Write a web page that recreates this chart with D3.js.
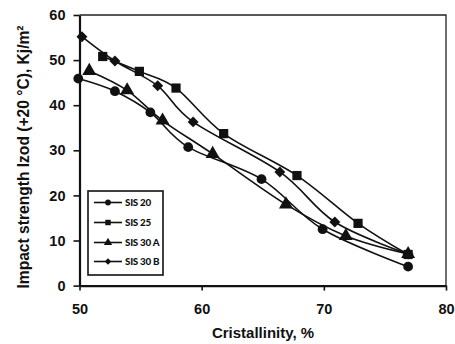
<!DOCTYPE html>
<html>
<head>
<meta charset="utf-8">
<script src="https://cdn.jsdelivr.net/npm/d3@7/dist/d3.min.js"></script>
<style>
  html, body { margin: 0; padding: 0; background: #fff; }
  svg { display: block; }
  .tick text { font-family: "Liberation Sans", Arial, sans-serif; font-weight: bold; font-size: 14.5px; fill: #111; }
</style>
</head>
<body>
<svg id="chart" width="455" height="344"></svg>
<script>
// Impact strength vs. crystallinity for four SIS grades
const seriesNames = ["SIS 20", "SIS 25", "SIS 30 A", "SIS 30 B"];
const sis20X  = [49.9, 52.9, 55.8, 58.9, 64.9, 69.9, 76.9];
const sis20Y  = [45.9, 43.1, 38.4, 30.7, 23.6, 12.5, 4.2];
const sis25X  = [51.9, 54.9, 57.9, 61.8, 67.8, 72.8, 76.9];
const sis25Y  = [50.8, 47.5, 43.8, 33.7, 24.4, 13.8, 6.9];
const sis30aX = [50.8, 53.9, 56.8, 60.9, 66.9, 71.8, 76.9];
const sis30aY = [47.6, 43.3, 36.6, 29.2, 18.0, 11.0, 7.0];
const sis30bX = [50.2, 52.9, 56.4, 59.3, 66.4, 70.9, 76.9];
const sis30bY = [55.2, 49.8, 44.3, 36.3, 25.2, 14.1, 7.0];
const xTicks = [50, 60, 70, 80];
const yTicks = [0, 10, 20, 30, 40, 50, 60];

// a square turned 45 degrees, as wide as it is tall
const symbolRhomb = {
  draw(ctx, size) {
    const r = Math.sqrt(size / 2);
    ctx.moveTo(0, -r); ctx.lineTo(r, 0); ctx.lineTo(0, r); ctx.lineTo(-r, 0); ctx.closePath();
  }
};

const series = [
  { name: seriesNames[0], xs: sis20X,  ys: sis20Y,  symbol: d3.symbolCircle,   size: 75 },
  { name: seriesNames[1], xs: sis25X,  ys: sis25Y,  symbol: d3.symbolSquare,   size: 85 },
  { name: seriesNames[2], xs: sis30aX, ys: sis30aY, symbol: d3.symbolTriangle, size: 85 },
  { name: seriesNames[3], xs: sis30bX, ys: sis30bY, symbol: symbolRhomb,       size: 60 }
];

const svg = d3.select("#chart");
const plotL = 79.5, plotR = 446, plotT = 15, plotB = 285.6;

const x = d3.scaleLinear().domain([50, 80]).range([plotL, plotR]);
const y = d3.scaleLinear().domain([0, 60]).range([plotB, plotT]);

// plot frame (top and right edges)
svg.append("path")
  .attr("d", `M${plotL},${plotT}H${plotR}V${plotB}`)
  .attr("fill", "none").attr("stroke", "#222").attr("stroke-width", 1.3);

const xAxis = svg.append("g")
  .attr("transform", `translate(0,${plotB})`)
  .call(d3.axisBottom(x).tickValues(xTicks).tickSize(5).tickPadding(13).tickSizeOuter(0));
const yAxis = svg.append("g")
  .attr("transform", `translate(${plotL},0)`)
  .call(d3.axisLeft(y).tickValues(yTicks).tickSize(6).tickPadding(8).tickSizeOuter(0));
[xAxis, yAxis].forEach(g => {
  g.select(".domain").attr("stroke", "#111").attr("stroke-width", 2.2);
  g.selectAll(".tick line").attr("stroke", "#111").attr("stroke-width", 1.6);
});

// axis titles
svg.append("text")
  .attr("x", 263).attr("y", 338)
  .attr("text-anchor", "middle")
  .attr("font-family", "Liberation Sans, Arial, sans-serif")
  .attr("font-weight", "bold").attr("font-size", 15).attr("fill", "#111")
  .text("Cristallinity, %");
svg.append("text")
  .attr("transform", "translate(29,157) rotate(-90)")
  .attr("text-anchor", "middle")
  .attr("font-family", "Liberation Sans, Arial, sans-serif")
  .attr("font-weight", "bold").attr("font-size", 15.6).attr("fill", "#111")
  .text("Impact strength Izod (+20 °C), Kj/m²");

// series lines and markers
const line = d3.line()
  .x(d => x(d[0])).y(d => y(d[1]))
  .curve(d3.curveCatmullRom.alpha(0));

series.forEach(s => {
  const pts = s.xs.map((v, i) => [v, s.ys[i]]);
  svg.append("path")
    .datum(pts)
    .attr("d", line)
    .attr("fill", "none").attr("stroke", "#111").attr("stroke-width", 1.6);
  svg.append("g").selectAll("path")
    .data(pts).join("path")
    .attr("transform", d => `translate(${x(d[0])},${y(d[1])})`)
    .attr("d", d3.symbol().type(s.symbol).size(s.size))
    .attr("fill", "#111");
});

// legend
const lg = svg.append("g");
lg.append("rect")
  .attr("x", 88).attr("y", 191).attr("width", 75).attr("height", 84)
  .attr("fill", "#fff").attr("stroke", "#111").attr("stroke-width", 1.6);
const rowY = [202.5, 222.5, 242.5, 261.5];
series.forEach((s, i) => {
  lg.append("line")
    .attr("x1", 94).attr("x2", 122).attr("y1", rowY[i]).attr("y2", rowY[i])
    .attr("stroke", "#111").attr("stroke-width", 1.6);
  lg.append("path")
    .attr("transform", `translate(108,${rowY[i]})`)
    .attr("d", d3.symbol().type(s.symbol).size(s.size * 0.35))
    .attr("fill", "#111");
  lg.append("text")
    .attr("x", 125).attr("y", rowY[i]).attr("dy", "0.35em")
    .attr("font-family", "Lato, 'Open Sans', sans-serif")
    .attr("font-weight", 900).attr("font-size", 9.8).attr("fill", "#111")
    .attr("letter-spacing", -0.25)
    .text(s.name);
});
</script>
</body>
</html>
